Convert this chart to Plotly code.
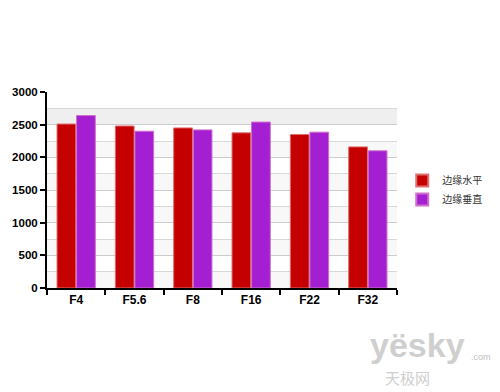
import plotly.graph_objects as go

categories = ["F4", "F5.6", "F8", "F16", "F22", "F32"]
horizontal = [2510, 2480, 2450, 2375, 2350, 2160]
vertical = [2640, 2400, 2420, 2540, 2385, 2100]
series_names = ["边缘水平", "边缘垂直"]
y_ticks = [0, 500, 1000, 1500, 2000, 2500, 3000]

fig = go.Figure()
fig.add_trace(go.Bar(
    x=categories, y=horizontal, name=series_names[0],
    marker=dict(color="#c40000", line=dict(color="#e07070", width=1)),
))
fig.add_trace(go.Bar(
    x=categories, y=vertical, name=series_names[1],
    marker=dict(color="#a41fd2", line=dict(color="#d070c8", width=1)),
))

# alternating background band
shapes = [dict(type="rect", xref="paper", yref="y", x0=0, x1=1, y0=2500, y1=2750,
               fillcolor="#efefef", line=dict(width=0), layer="below")]
for lo in range(0, 2500, 500):
    shapes.append(dict(type="rect", xref="paper", yref="y", x0=0, x1=1, y0=lo, y1=lo + 250,
                       fillcolor="#f8f8f8", line=dict(width=0), layer="below"))

fig.update_layout(
    width=500, height=392,
    margin=dict(l=39, r=111, t=84, b=112, autoexpand=False),
    paper_bgcolor="white", plot_bgcolor="white",
    barmode="group", bargap=0.33, bargroupgap=0.04,
    shapes=shapes,
    font=dict(family="Liberation Sans, Arial, sans-serif", color="#000000"),
    legend=dict(x=1.015, y=0.5, xanchor="left", yanchor="middle",
                font=dict(family="Noto Sans CJK SC", size=10, color="#333333"),
                itemsizing="constant", tracegroupgap=0, bgcolor="rgba(0,0,0,0)"),
    xaxis=dict(
        type="category", showline=True, linecolor="#000000", linewidth=2,
        ticks="outside", tickson="boundaries", ticklen=5, tickwidth=2, tickcolor="#000000",
        tickfont=dict(size=12, family="Liberation Sans, Arial", weight="bold"),
        showgrid=False, zeroline=False, automargin=False,
    ),
    yaxis=dict(
        range=[0, 3000], tickvals=y_ticks, showline=True, linecolor="#000000", linewidth=2,
        ticks="outside", ticklen=5, tickwidth=2, tickcolor="#000000",
        tickfont=dict(size=11.5, family="Liberation Sans, Arial", weight="bold"),
        showgrid=True, gridcolor="#cccccc", gridwidth=1, zeroline=False, automargin=False,
        minor=dict(dtick=250, showgrid=True, gridcolor="#d8d8d8", gridwidth=1),
    ),
    annotations=[
        dict(text="yësky", xref="paper", yref="paper", x=1.2, y=-0.4, xanchor="right",
             yanchor="bottom", showarrow=False,
             font=dict(size=34, family="Liberation Sans", color="#cfcfcf", weight="bold")),
        dict(text=".com", xref="paper", yref="paper", x=1.205, y=-0.35, xanchor="left",
             yanchor="middle", showarrow=False,
             font=dict(size=9, family="Liberation Sans", color="#c0c0c0")),
        dict(text="天极网", xref="paper", yref="paper", x=1.03, y=-0.395, xanchor="center",
             yanchor="top", showarrow=False,
             font=dict(size=15, family="Noto Sans CJK SC", color="#cfcfcf")),
    ],
)

fig.write_html("out.html")
